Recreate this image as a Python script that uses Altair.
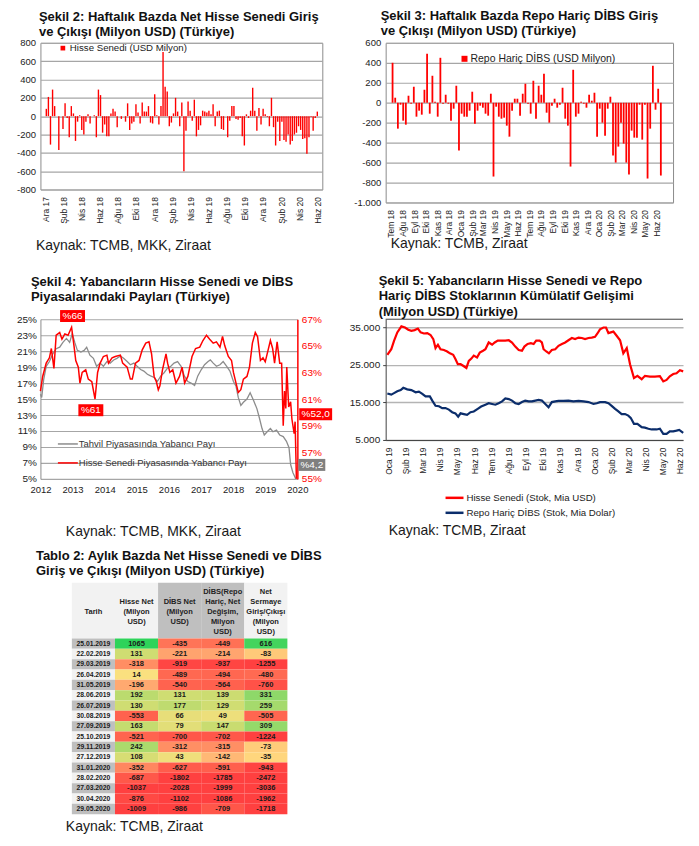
import altair as alt
import pandas as pd

FONT = "Liberation Sans"
MONTHS_TR = "['Oca','Şub','Mar','Nis','May','Haz','Tem','Ağu','Eyl','Eki','Kas','Ara']"
RED = "#FF0000"
NAVY = "#0B2D6B"
GRID = "#A6A6A6"
TXT = "#222222"

# ---------------- Şekil 2 : weekly net equity flows (USD mn) ----------------
s2_first_week = "2017-12-04"
s2_flows = [80, 210, -310, 290, 110, 0, -370, 0, -140, 140,
            -20, -230, 110, 30, -270, -60, 10, -150, -200, -60,
            20, -80, 0, 10, -230, 290, 230, -180, -90, -220,
            -220, 30, 80, 50, -120, 0, -30, 0, -60, 140,
            -150, -80, -60, 130, 40, -80, 150, 50, 50, 110,
            -70, -80, 240, 10, -90, 110, 700, 320, 270, -110,
            -70, 30, 200, 50, -110, 150, -600, -160, 160, 60,
            -50, 180, -220, -150, -100, 60, 50, 40, 60, 20,
            130, -110, 50, 60, -140, -150, 0, -230, -50, 110,
            110, -30, -40, -20, -220, -320, 20, -20, 60, 310,
            60, -160, 90, -90, 80, 20, -10, -110, 200, -120,
            -320, -60, -270, -60, -260, -280, -200, -310, -270, -200,
            -180, -110, -150, -250, -240, -410, -230, -10, -160, -20, 50]
s2_ticks = [(2017, 12), (2018, 2), (2018, 4), (2018, 6), (2018, 8), (2018, 10), (2018, 12),
            (2019, 2), (2019, 4), (2019, 6), (2019, 8), (2019, 10), (2019, 12),
            (2020, 2), (2020, 4), (2020, 6)]

# ---------------- Şekil 3 : weekly bond flows excl. repo (USD mn) ----------------
s3_first_week = "2018-07-06"
s3_flows = [400, 50, -260, -20, -180, -220, 70, -10, 160, -140,
            -80, -120, 130, 490, -110, 270, 10, -140, 450, -10,
            80, -10, -180, -60, 170, -480, -110, -140, -140, -80,
            110, -210, -80, -30, -50, -110, -130, 90, -740, -40,
            -140, -160, -150, -230, -340, -80, 40, 40, -130, 90,
            190, -10, -110, 220, -160, 170, 80, 290, -100, -200,
            -30, 40, -50, -20, 150, -160, -230, -640, 330, -140,
            -110, 10, -10, -50, 80, 20, 100, -340, -60, -200,
            -330, -60, 60, -530, -600, -440, -200, -410, -600, -720,
            -280, -350, -350, -20, -370, -20, -760, -260, 370, -70,
            140, -730]
s3_ticks = [(2018, m) for m in range(7, 13)] + [(2019, m) for m in range(1, 13)] + [(2020, m) for m in range(1, 7)]

# ---------------- Şekil 4 : foreign shares (%) ----------------
s4_bond_year = [2012.00, 2012.04, 2012.10, 2012.18, 2012.28, 2012.39, 2012.49, 2012.60, 2012.70, 2012.81,
                2012.91, 2012.99, 2013.07, 2013.15, 2013.26, 2013.36, 2013.44, 2013.54, 2013.65, 2013.75,
                2013.86, 2013.96, 2014.07, 2014.17, 2014.28, 2014.38, 2014.49, 2014.59, 2014.70, 2014.80,
                2014.91, 2015.01, 2015.12, 2015.22, 2015.33, 2015.43, 2015.54, 2015.64, 2015.75, 2015.85,
                2015.96, 2016.06, 2016.16, 2016.27, 2016.38, 2016.48, 2016.59, 2016.69, 2016.80, 2016.90,
                2017.01, 2017.11, 2017.22, 2017.29, 2017.38, 2017.48, 2017.59, 2017.69, 2017.80, 2017.90,
                2018.01, 2018.09, 2018.16, 2018.24, 2018.32, 2018.43, 2018.53, 2018.64, 2018.74, 2018.82,
                2018.90, 2018.97, 2019.06, 2019.16, 2019.24, 2019.35, 2019.45, 2019.56, 2019.66, 2019.74,
                2019.79, 2019.86, 2019.95]
s4_bond_share = [15.6, 15.2, 17.4, 19.1, 19.7, 20.7, 21.3, 21.5, 22.1, 22.6,
                 22.1, 23.2, 22.1, 21.1, 20.9, 21.1, 21.5, 20.5, 20.1, 19.1,
                 19.5, 19.1, 19.7, 19.5, 19.9, 20.1, 20.4, 20.1, 19.7, 19.3,
                 19.5, 19.1, 18.7, 18.5, 18.1, 17.9, 17.7, 17.2, 17.9, 18.3,
                 18.9, 19.1, 19.5, 19.7, 19.1, 17.9, 17.2, 17.0, 16.7, 17.9,
                 18.7, 19.3, 19.7, 19.9, 19.5, 19.1, 19.3, 19.7, 19.1, 18.5,
                 17.2, 16.6, 15.2, 14.2, 14.6, 15.0, 15.8, 14.8, 13.8, 12.6,
                 11.3, 10.5, 10.9, 11.3, 10.9, 11.1, 10.5, 10.3, 9.7, 8.9,
                 6.8, 5.8, 5.0]
s4_eq_year = [2012.00, 2012.07, 2012.18, 2012.28, 2012.34, 2012.42, 2012.49, 2012.60, 2012.67, 2012.76,
              2012.86, 2012.97, 2013.05, 2013.10, 2013.18, 2013.23, 2013.30, 2013.41, 2013.49, 2013.60,
              2013.70, 2013.78, 2013.86, 2013.96, 2014.07, 2014.12, 2014.23, 2014.33, 2014.49, 2014.56,
              2014.70, 2014.80, 2014.86, 2014.96, 2015.07, 2015.17, 2015.28, 2015.38, 2015.46, 2015.54,
              2015.61, 2015.67, 2015.72, 2015.80, 2015.91, 2015.96, 2016.03, 2016.12, 2016.22, 2016.33,
              2016.41, 2016.49, 2016.59, 2016.72, 2016.83, 2016.96, 2017.06, 2017.17, 2017.27, 2017.38,
              2017.48, 2017.59, 2017.67, 2017.74, 2017.85, 2017.95, 2018.01, 2018.09, 2018.16, 2018.24,
              2018.32, 2018.43, 2018.51, 2018.60, 2018.69, 2018.76, 2018.85, 2018.93, 2019.00, 2019.09,
              2019.16, 2019.23, 2019.29, 2019.37, 2019.45, 2019.51, 2019.56, 2019.60, 2019.64, 2019.67,
              2019.73, 2019.79, 2019.83, 2019.90, 2019.93, 2019.97]
s4_eq_share = [61.6, 62.7, 63.7, 64.1, 64.8, 63.3, 65.8, 66.0, 65.5, 65.9,
               65.8, 66.4, 64.9, 63.9, 63.4, 62.2, 63.0, 63.2, 62.5, 62.3,
               61.0, 63.0, 63.7, 64.2, 64.3, 63.7, 64.1, 64.2, 64.3, 63.7,
               63.4, 62.5, 62.5, 63.7, 63.9, 64.7, 65.2, 65.3, 64.4, 62.7,
               62.3, 61.7, 62.0, 63.2, 64.4, 63.7, 63.0, 63.2, 62.2, 62.7,
               63.4, 62.2, 62.7, 64.2, 64.8, 64.9, 65.4, 65.8, 65.5, 65.2,
               65.3, 64.9, 65.7, 65.0, 64.2, 63.9, 63.0, 62.2, 61.5, 61.7,
               62.5, 62.7, 63.4, 65.2, 66.0, 65.7, 63.9, 64.1, 63.8, 64.7,
               65.4, 64.8, 63.7, 65.3, 63.7, 63.7, 59.0, 61.6, 60.3, 63.4,
               60.4, 60.8, 59.5, 58.4, 59.3, 55.0]
s4_notes = ["%66", "%61", "%52,0", "%4,2"]
s4_note_year = [2013.0, 2013.57, 2020.57, 2020.45]
s4_note_share = [25.4, 13.6, 13.1, 6.75]

# ---------------- Şekil 5 : cumulative stocks (USD mn) ----------------
s5_eq_month = [-0.06, 0.17, 0.33, 0.52, 0.76, 0.97, 1.16, 1.34, 1.53, 1.72,
               1.88, 2.07, 2.27, 2.46, 2.62, 2.75, 2.89, 3.04, 3.24, 3.43,
               3.59, 3.78, 3.91, 4.05, 4.21, 4.36, 4.55, 4.69, 4.84, 4.98,
               5.17, 5.33, 5.52, 5.66, 5.85, 6.05, 6.20, 6.38, 6.57, 6.82,
               7.02, 7.21, 7.40, 7.60, 7.79, 7.93, 8.12, 8.31, 8.47, 8.62,
               8.82, 8.95, 9.05, 9.21, 9.36, 9.53, 9.73, 9.92, 10.12, 10.31,
               10.50, 10.70, 10.89, 11.09, 11.28, 11.47, 11.67, 11.86, 12.05, 12.19,
               12.34, 12.54, 12.69, 12.83, 12.97, 13.12, 13.31, 13.51, 13.70, 13.90,
               14.09, 14.32, 14.52, 14.77, 14.96, 15.25, 15.54, 15.83, 16.03, 16.22,
               16.41, 16.61, 16.80, 17.00, 17.19]
s5_eq_stock = [27700, 29200, 31450, 33670, 35300, 35000, 34400, 34100, 34300, 34700,
               33700, 33400, 33500, 33000, 31900, 29500, 30400, 29200, 29000, 28600,
               28100, 27700, 26600, 25200, 25200, 24800, 24200, 26100, 26700, 27500,
               27000, 28300, 28800, 29200, 31000, 30400, 31000, 31500, 31500, 31500,
               31600, 31000, 29900, 29000, 28800, 29900, 30600, 30800, 30600, 31500,
               31500, 31000, 29200, 28600, 28100, 29000, 29200, 30100, 30600, 31000,
               31600, 32200, 31900, 32300, 32200, 31900, 32200, 32300, 32500, 33400,
               34500, 35000, 35000, 33500, 33700, 33900, 32800, 31600, 28100, 29500,
               25200, 21500, 22100, 21200, 22100, 21900, 21900, 22000, 20600, 21000,
               22000, 22600, 22800, 23600, 23300]
s5_bond_month = [-0.06, 0.17, 0.33, 0.52, 0.72, 0.87, 1.10, 1.34, 1.59, 1.78,
                 1.98, 2.17, 2.42, 2.56, 2.75, 2.95, 3.14, 3.33, 3.53, 3.72,
                 3.91, 4.07, 4.21, 4.40, 4.59, 4.79, 4.98, 5.21, 5.41, 5.66,
                 5.85, 6.05, 6.24, 6.43, 6.63, 6.82, 7.02, 7.21, 7.40, 7.60,
                 7.79, 7.98, 8.18, 8.37, 8.57, 8.76, 8.95, 9.15, 9.34, 9.53,
                 9.73, 9.92, 10.21, 10.50, 10.79, 11.09, 11.38, 11.67, 11.96, 12.15,
                 12.34, 12.64, 12.83, 13.02, 13.22, 13.41, 13.60, 13.80, 13.99, 14.13,
                 14.32, 14.52, 14.77, 14.96, 15.16, 15.35, 15.64, 15.83, 16.03, 16.22,
                 16.41, 16.61, 16.80, 16.96, 17.19]
s5_bond_stock = [17400, 17100, 17500, 18000, 18300, 18900, 18500, 18300, 17700, 17900,
                 17300, 16600, 16600, 15500, 14100, 14000, 13500, 13500, 13100, 12400,
                 12100, 11200, 12100, 11900, 11700, 12400, 12600, 13300, 13900, 14400,
                 14800, 14600, 14400, 14800, 15300, 16100, 15900, 15500, 14800, 14600,
                 15100, 15500, 15300, 15300, 15500, 15700, 15500, 14600, 13700, 15100,
                 15300, 15400, 15400, 15500, 15300, 15400, 15300, 15100, 14600, 14800,
                 15100, 15100, 14800, 14100, 13300, 12600, 11900, 11900, 11500, 10900,
                 9300, 9300, 8400, 8300, 8000, 7800, 7800, 8000, 6600, 6600,
                 7300, 7300, 7500, 7700, 6900]

# ---------------- Tablo 2 ----------------
t2_dates = ["25.01.2019", "22.02.2019", "29.03.2019", "26.04.2019", "31.05.2019", "28.06.2019",
            "26.07.2019", "30.08.2019", "27.09.2019", "25.10.2019", "29.11.2019", "27.12.2019",
            "31.01.2020", "28.02.2020", "27.03.2020", "30.04.2020", "29.05.2020"]
t2_hisse = [1065, 131, -318, 14, -196, 192, 130, -553, 163, -521, 242, 108, -352, -687, -1037, -876, -1009]
t2_dibs = [-435, -221, -919, -489, -540, 131, 177, 66, 79, -700, -312, 43, -627, -1802, -2028, -1102, -986]
t2_repo = [-449, -214, -937, -494, -564, 139, 129, 49, 147, -702, -315, -142, -591, -1785, -1999, -1086, -709]
t2_net = [616, -83, -1255, -480, -760, 331, 259, -505, 309, -1224, -73, -35, -943, -2472, -3036, -1962, -1718]
t2_cols = ["Tarih", "Hisse", "DIBS", "Repo", "Net"]
t2_headers = ["Tarih", "Hisse Net\n(Milyon\nUSD)", "DİBS Net\n(Milyon\nUSD)",
              "DİBS(Repo\nHariç, Net\nDeğişim,\nMilyon\nUSD)",
              "Net\nSermaye\nGiriş/Çıkışı\n(Milyon\nUSD)"]
t2_header_bg = ["#F2F2F2", "#F2F2F2", "#BFBFBF", "#BFBFBF", "#F2F2F2"]
HEAT_DOMAIN = [-1000, -500, -200, 0, 150, 350, 700]
HEAT_RANGE = ["#FF4040", "#FF6650", "#FFA870", "#FFE080", "#C8DC70", "#88D868", "#2ED35A"]


# ---------------- helpers ----------------
def one(t=""):
    return pd.DataFrame({"t": [t]})


def txt(t, x, y, size, weight="normal", color=TXT, align="left", baseline="alphabetic"):
    return alt.Chart(one(t)).mark_text(
        align=align, baseline=baseline, fontSize=size, fontWeight=weight, color=color, font=FONT
    ).encode(x=alt.value(x), y=alt.value(y), text="t:N")


def title_lines(lines, x, y0, lh=15.5):
    return [txt(l, x, y0 + i * lh, 13, "bold", "#111111") for i, l in enumerate(lines)]


def dt(y, m):
    return alt.DateTime(year=y, month=m, date=1)


TIME_LABEL = MONTHS_TR + "[month(datum.value)] + ' ' + timeFormat(datum.value, '%y')"

# ---------------- Chart 2 ----------------
W2, H2 = 282.5, 147
df2 = pd.DataFrame({"week": pd.date_range(s2_first_week, periods=len(s2_flows), freq="7D"), "flow": s2_flows})
bars2 = alt.Chart(df2).mark_bar(color=RED, width=1.4).encode(
    x=alt.X("week:T", scale=alt.Scale(domain=[dt(2017, 12), dt(2020, 6)]),
            axis=alt.Axis(values=[dt(y, m) for y, m in s2_ticks], labelExpr=TIME_LABEL, labelAngle=270,
                          labelFontSize=8.5, labelPadding=7, title=None, grid=False, domain=False, ticks=False,
                          labelOverlap=False, labelFlush=False, labelColor=TXT)),
    y=alt.Y("flow:Q", scale=alt.Scale(domain=[-800, 800]),
            axis=alt.Axis(values=list(range(-800, 801, 200)), labelExpr="'' + datum.value", title=None,
                          domain=False, ticks=False, gridColor=GRID, gridWidth=1.2, labelFontSize=9.5,
                          labelPadding=5, labelColor=TXT)),
)
leg2_sq = alt.Chart(one()).mark_square(color=RED, size=22, opacity=1).encode(x=alt.value(22.5), y=alt.value(5.3))
c2 = alt.layer(
    bars2, leg2_sq,
    txt("Hisse Senedi (USD Milyon)", 29.5, 5.3, 9.7, baseline="middle"),
    *title_lines(["Şekil 2: Haftalık Bazda Net Hisse Senedi Giriş", "ve Çıkışı (Milyon USD) (Türkiye)"], -1.5, -22.3),
    txt("Kaynak: TCMB,  MKK, Ziraat", -4.5, 204, 14, color="#1a1a1a", baseline="middle"),
).properties(width=W2, height=H2, view=alt.ViewBackground(stroke="#8C8C8C", strokeWidth=1))

# ---------------- Chart 3 ----------------
W3, H3 = 288, 160
df3 = pd.DataFrame({"week": pd.date_range(s3_first_week, periods=len(s3_flows), freq="7D"), "flow": s3_flows})
bars3 = alt.Chart(df3).mark_bar(color=RED, width=1.8).encode(
    x=alt.X("week:T", scale=alt.Scale(domain=[dt(2018, 7), dt(2020, 7)]),
            axis=alt.Axis(values=[dt(y, m) for y, m in s3_ticks], labelExpr=TIME_LABEL, labelAngle=270,
                          labelFontSize=8.5, labelPadding=7, title=None, grid=False, domain=False, ticks=False,
                          labelOverlap=False, labelFlush=False, labelColor=TXT)),
    y=alt.Y("flow:Q", scale=alt.Scale(domain=[-1000, 600]),
            axis=alt.Axis(values=list(range(-1000, 601, 200)),
                          labelExpr="datum.value <= -1000 ? '-1.000' : '' + datum.value", title=None,
                          domain=False, ticks=False, gridColor=GRID, gridWidth=1.2, labelFontSize=9.5,
                          labelPadding=5, labelColor=TXT)),
)
leg3_sq = alt.Chart(one()).mark_square(color=RED, size=36, opacity=1).encode(x=alt.value(79), y=alt.value(16))
c3 = alt.layer(
    bars3, leg3_sq,
    txt("Repo Hariç DİBS (USD Milyon)", 85, 16, 10.5, baseline="middle"),
    *title_lines(["Şekil 3: Haftalık Bazda Repo Hariç DİBS Giriş", "ve Çıkışı (Milyon USD) (Türkiye)"], -5, -23),
    txt("Kaynak: TCMB,  Ziraat", 5, 202, 14, color="#1a1a1a", baseline="middle"),
).properties(width=W3, height=H3, view=alt.ViewBackground(stroke="#8C8C8C", strokeWidth=1))

# ---------------- Chart 4 ----------------
W4, H4 = 257.5, 160
X4 = alt.X("yr:Q", scale=alt.Scale(domain=[2012, 2020]),
           axis=alt.Axis(values=list(range(2012, 2021)), labelExpr="'' + datum.value", title=None, grid=False,
                         domain=False, ticks=False, labelFontSize=9.5, labelPadding=6, labelColor=TXT,
                         labelFlush=False))
df4g = pd.DataFrame({"yr": s4_bond_year, "share": s4_bond_share})
df4r = pd.DataFrame({"yr": s4_eq_year, "share": s4_eq_share})
gray4 = alt.Chart(df4g).mark_line(color="#8C8C8C", strokeWidth=1.3).encode(
    x=X4,
    y=alt.Y("share:Q", scale=alt.Scale(domain=[5, 25]),
            axis=alt.Axis(values=list(range(5, 26, 2)), labelExpr="datum.value + '%'", title=None, ticks=False,
                          domainColor="#8C8C8C", gridColor=GRID, gridWidth=1.1, labelFontSize=10,
                          labelPadding=4, labelColor=TXT)),
)
red4 = alt.Chart(df4r).mark_line(color=RED, strokeWidth=1.5).encode(
    x=X4,
    y=alt.Y("share:Q", scale=alt.Scale(domain=[55, 67]),
            axis=alt.Axis(orient="right", values=list(range(55, 68, 2)), labelExpr="datum.value + '%'",
                          title=None, ticks=False, grid=False, domainColor=RED, domainWidth=1.5,
                          labelColor=RED, labelFontSize=10, labelPadding=4)),
)
notes_df = pd.DataFrame({"yr": s4_note_year, "share": s4_note_share, "lab": s4_notes})
Yn = alt.Y("share:Q", scale=alt.Scale(domain=[5, 25]), axis=None)
box_styles = [(25, RED), (25, RED), (33, RED), (27, "#7F7F7F")]
boxes = [alt.Chart(notes_df.iloc[[i]]).mark_rect(width=w, height=12, color=f).encode(x=X4, y=Yn)
         for i, (w, f) in enumerate(box_styles)]
note_txt = alt.Chart(notes_df).mark_text(color="white", fontSize=10, font=FONT).encode(x=X4, y=Yn, text="lab:N")
leg4 = [
    alt.Chart(one()).mark_rule(color="#8C8C8C", strokeWidth=1.5).encode(
        x=alt.value(17.5), x2=alt.value(37.5), y=alt.value(125)),
    alt.Chart(one()).mark_rule(color=RED, strokeWidth=1.5).encode(
        x=alt.value(17.5), x2=alt.value(37.5), y=alt.value(144)),
    txt("Tahvil Piyasasında Yabancı Payı", 38.5, 125, 9.5, baseline="middle", color="#333333"),
    txt("Hisse Senedi Piyasasında Yabancı Payı", 38.5, 144, 9.5, baseline="middle", color="#333333"),
]
overlay4 = alt.layer(
    *boxes, note_txt, *leg4,
    *title_lines(["Şekil 4: Yabancıların Hisse Senedi ve DİBS", "Piyasalarındaki Payları (Türkiye)"], -9.5, -33.3),
    txt("Kaynak: TCMB,  MKK, Ziraat", 25.5, 213, 14, color="#1a1a1a", baseline="middle"),
)
c4 = alt.layer(gray4, red4, overlay4).resolve_scale(y="independent").properties(width=W4, height=H4)

# ---------------- Chart 5 ----------------
W5, H5 = 298, 121
X5 = alt.X("m:Q", scale=alt.Scale(domain=[-0.157, 17.18]),
           axis=alt.Axis(values=list(range(18)),
                         labelExpr=MONTHS_TR + "[datum.value % 12] + ' ' + (19 + floor(datum.value / 12))",
                         labelAngle=270, labelFontSize=8.5, labelPadding=7, title=None, grid=False, ticks=False,
                         domainColor="#404040", labelOverlap=False, labelFlush=False, labelColor=TXT))
Y5 = alt.Y("stock:Q", scale=alt.Scale(domain=[5000, 37200]),
           axis=alt.Axis(values=[5000, 15000, 25000, 35000],
                         labelExpr="replace(format(datum.value, ','), ',', '.')", title=None,
                         domainColor="#404040", tickColor="#404040", tickSize=3, gridColor="#B4B4B4",
                         gridWidth=1.5, labelFontSize=10, labelPadding=3, labelColor=TXT))
df5r = pd.DataFrame({"m": s5_eq_month, "stock": s5_eq_stock})
df5b = pd.DataFrame({"m": s5_bond_month, "stock": s5_bond_stock})
line5r = alt.Chart(df5r).mark_line(color=RED, strokeWidth=2.2).encode(x=X5, y=Y5)
line5b = alt.Chart(df5b).mark_line(color=NAVY, strokeWidth=2.2).encode(x=X5, y=Y5)
top5 = alt.Chart(one()).mark_rule(color="#404040", strokeWidth=1).encode(x=alt.value(0), x2=alt.value(W5), y=alt.value(0))
c5 = alt.layer(
    line5r, line5b, top5,
    alt.Chart(one()).mark_rule(color=RED, strokeWidth=2.5).encode(x=alt.value(60), x2=alt.value(78), y=alt.value(179)),
    alt.Chart(one()).mark_rule(color=NAVY, strokeWidth=2.5).encode(x=alt.value(60), x2=alt.value(78), y=alt.value(194)),
    txt("Hisse Senedi (Stok, Mia USD)", 81, 179, 9.7, baseline="middle"),
    txt("Repo Hariç DİBS (Stok, Mia Dolar)", 81, 194, 9.7, baseline="middle"),
    *title_lines(["Şekil 5: Yabancıların Hisse Senedi ve Repo", "Hariç DİBS Stoklarının Kümülatif Gelişimi",
                  "(Milyon USD) (Türkiye)"], -7, -34.3),
    txt("Kaynak: TCMB,  Ziraat", 3, 212, 14, color="#1a1a1a", baseline="middle"),
).properties(width=W5, height=H5)

# ---------------- Table ----------------
WT, HT = 251, 219
XT = alt.X("col:N", scale=alt.Scale(domain=t2_cols, range=[31.5, 247.5], paddingInner=0, paddingOuter=0), axis=None)
YT = alt.Y("r:O", scale=alt.Scale(domain=list(range(len(t2_dates))), range=[43, 219], paddingInner=0, paddingOuter=0),
           axis=None)
hdf = pd.DataFrame({"col": t2_cols, "h": t2_headers, "bg": t2_header_bg})
tdf = pd.DataFrame({"col": ["Tarih"] * len(t2_dates), "r": list(range(len(t2_dates))), "txt": t2_dates,
                    "shade": ["#BFBFBF" if i % 2 == 0 else "#F2F2F2" for i in range(len(t2_dates))]})
vrows = []
for c, arr in zip(t2_cols[1:], [t2_hisse, t2_dibs, t2_repo, t2_net]):
    for i, v in enumerate(arr):
        vrows.append({"col": c, "r": i, "val": v, "txt": str(v)})
vdf = pd.DataFrame(vrows)
hdr_rect = alt.Chart(hdf).mark_rect().encode(x=XT, y=alt.value(-13), y2=alt.value(43), fill=alt.Fill("bg:N", scale=None))
HDR_LH = 10
hdr_txts = []
for i in range(len(t2_cols)):
    n_lines = t2_headers[i].count("\n") + 1
    hdr_txts.append(
        alt.Chart(hdf.iloc[[i]]).mark_text(lineBreak="\n", baseline="middle", fontSize=7.5, fontWeight="bold",
                                           lineHeight=HDR_LH, color=TXT, font=FONT).encode(
            x=XT, y=alt.value(16 - (n_lines - 1) * HDR_LH / 2), text="h:N"))
tar_rect = alt.Chart(tdf).mark_rect().encode(x=XT, y=YT, fill=alt.Fill("shade:N", scale=None))
val_rect = alt.Chart(vdf).mark_rect().encode(
    x=XT, y=YT,
    color=alt.Color("val:Q", scale=alt.Scale(domain=HEAT_DOMAIN, range=HEAT_RANGE, clamp=True, interpolate="rgb"),
                    legend=None))
tar_txt = alt.Chart(tdf).mark_text(fontSize=6.8, fontWeight="bold", color="#1a1a1a", font=FONT).encode(
    x=XT, y=YT, text="txt:N")
val_txt = alt.Chart(vdf).mark_text(fontSize=7.5, fontWeight="bold", color="#1a1a1a", font=FONT).encode(
    x=XT, y=YT, text="txt:N")
ctab = alt.layer(
    hdr_rect, tar_rect, val_rect, *hdr_txts, tar_txt, val_txt,
    *title_lines(["Tablo 2: Aylık Bazda Net Hisse Senedi ve DİBS", "Giriş ve Çıkışı (Milyon USD) (Türkiye)"], -4.5, -36),
    txt("Kaynak: TCMB,  Ziraat", 25.5, 232, 14, color="#1a1a1a", baseline="middle"),
).properties(width=WT, height=HT)

chart = alt.concat(
    c2, c3, c4, c5, ctab, columns=2, spacing={"row": 117, "column": 63}, bounds="flush"
).properties(
    padding={"left": 7.5, "top": 0, "right": 2, "bottom": 2}
).configure(font=FONT).configure_view(stroke="transparent").configure_axis(labelFont=FONT)

chart.save("out.html", embed_options={"renderer": "svg", "actions": False})
